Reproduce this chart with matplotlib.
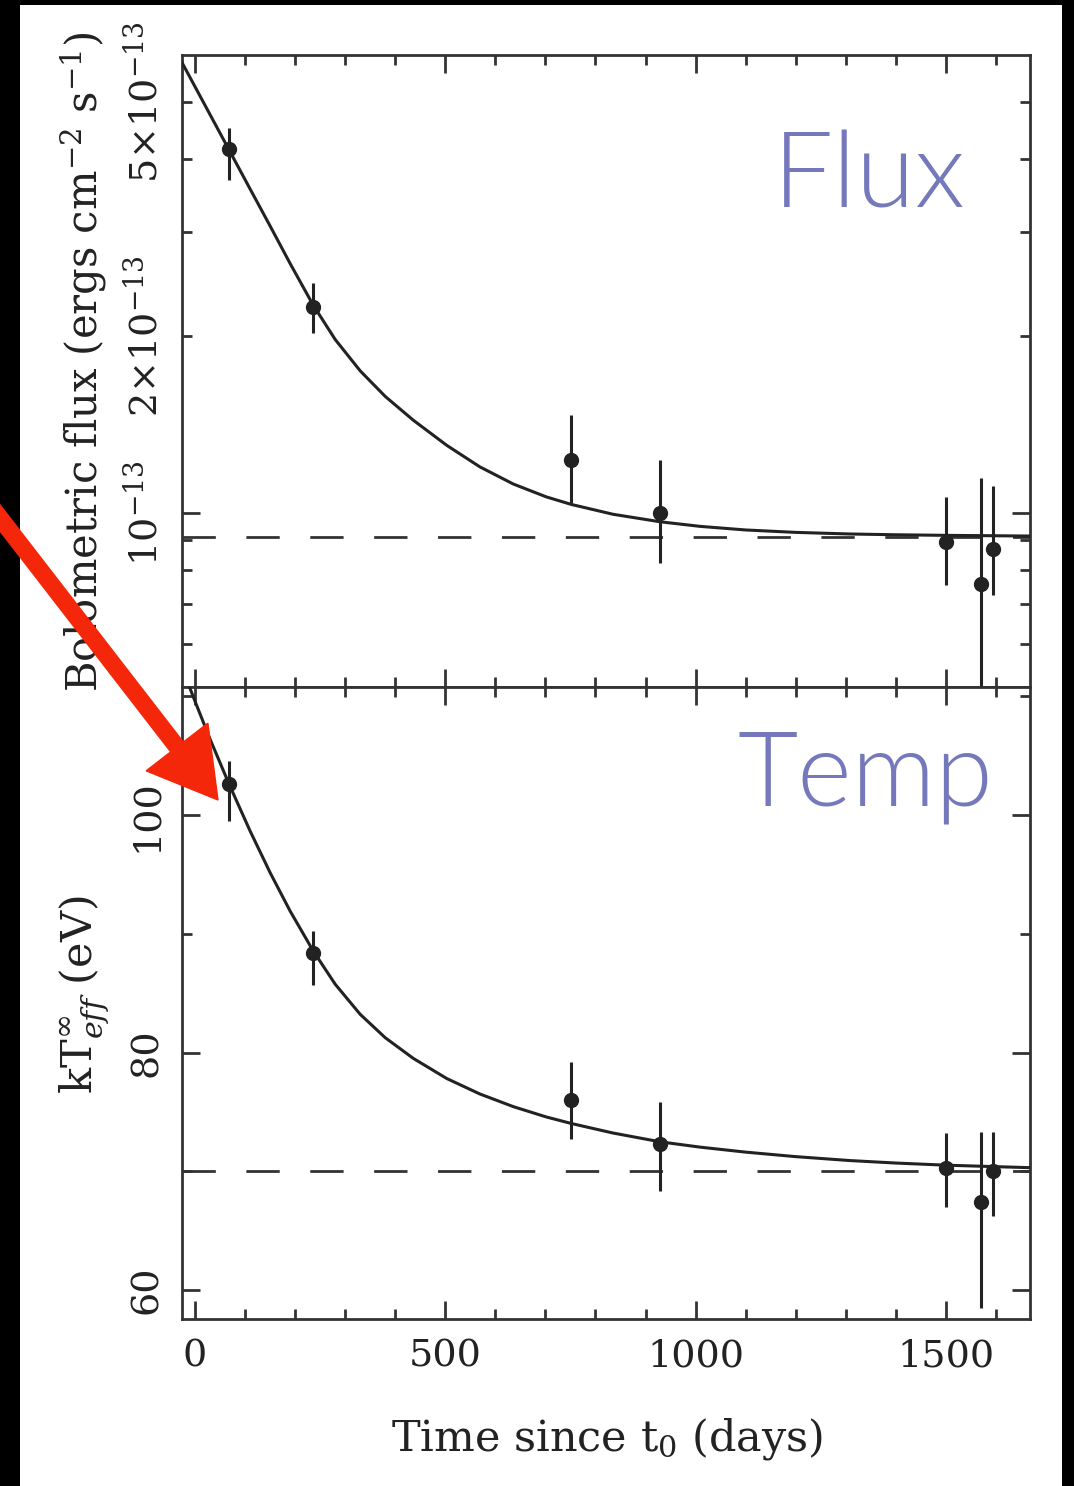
import matplotlib
matplotlib.use("Agg")
import matplotlib.pyplot as plt
from matplotlib.patches import Rectangle, FancyArrow
from matplotlib.ticker import FixedLocator, FuncFormatter, MultipleLocator

plt.rcParams["font.family"] = ["DejaVu Serif"]
plt.rcParams["mathtext.fontset"] = "dejavuserif"

W, H = 1074, 1486
INK = "#222222"

# observation epochs (days since t0)
days = [68, 236, 752, 929, 1500, 1570, 1595]

# bolometric flux in units of 1e-13 erg cm^-2 s^-1
flux = [4.15, 2.24, 1.23, 1.00, 0.894, 0.758, 0.870]
flux_lo = [3.68, 2.02, 1.04, 0.823, 0.755, 0.45, 0.727]
flux_hi = [4.51, 2.46, 1.47, 1.23, 1.066, 1.148, 1.113]

# effective temperature (eV)
temp = [102.6, 88.35, 76.0, 72.3, 70.3, 67.4, 70.0]
temp_lo = [99.5, 85.7, 72.7, 68.3, 67.0, 58.5, 66.2]
temp_hi = [104.6, 90.2, 79.2, 75.8, 73.2, 73.3, 73.3]

# fitted cooling curves
curve_days = [-27, 0, 30, 68, 110, 150, 190, 236, 280, 330, 380, 436, 503,
              569, 636, 702, 752, 835, 929, 1009, 1100, 1200, 1308, 1400,
              1500, 1668]
flux_curve = [5.847, 5.301, 4.753, 4.140, 3.554, 3.075, 2.655, 2.257, 1.973,
              1.745, 1.579, 1.439, 1.304, 1.199, 1.121, 1.066, 1.035, 0.9961,
              0.9673, 0.9501, 0.9368, 0.9280, 0.9222, 0.9194, 0.9173, 0.9148]
temp_curve = [112.52, 109.60, 106.41, 102.62, 98.67, 95.16, 91.92, 88.57,
              85.76, 83.22, 81.25, 79.51, 77.81, 76.51, 75.44, 74.57, 74.02,
              73.22, 72.48, 72.03, 71.61, 71.23, 70.90, 70.69, 70.51, 70.30]

flux_floor = 0.9127
temp_floor = 70.0


def px(x, y):
    return x / W, 1 - y / H


def style_axes(ax):
    for s in ax.spines.values():
        s.set_linewidth(2.0)
        s.set_color("#333333")
    ax.tick_params(which="both", direction="in", top=True, right=True,
                   width=2.0, color="#333333", labelsize=27.5, labelcolor=INK)
    ax.tick_params(which="major", length=13)
    ax.tick_params(which="minor", length=7)
    ax.tick_params(axis="x", which="both", pad=14)
    ax.tick_params(axis="y", which="both", pad=12, labelrotation=90)
    ax.xaxis.set_major_locator(MultipleLocator(500))
    ax.xaxis.set_minor_locator(MultipleLocator(100))


def draw_points(ax, y, lo, hi):
    yerr = [[v - l for v, l in zip(y, lo)], [h - v for v, h in zip(y, hi)]]
    ax.errorbar(days, y, yerr=yerr, fmt="o", color=INK, ms=10,
                elinewidth=2.2, capsize=0, zorder=4)


fig = plt.figure(figsize=(W / 100, H / 100), dpi=100)
fig.patch.set_facecolor("black")
fig.add_artist(Rectangle((20 / W, 0), 1042 / W, 1 - 5 / H,
                         transform=fig.transFigure, facecolor="white",
                         edgecolor="none", zorder=-5))

ax1 = fig.add_axes([182 / W, 1 - 687 / H, 848 / W, 632 / H])
ax2 = fig.add_axes([182 / W, 1 - 1319 / H, 848 / W, 632 / H], sharex=ax1)

# --- flux panel
style_axes(ax1)
ax1.set_yscale("log")
ax1.plot(curve_days, flux_curve, color=INK, lw=2.2, zorder=3)
ax1.axhline(flux_floor, color="#333333", lw=2.0, dashes=(12, 11), zorder=2)
draw_points(ax1, flux, flux_lo, flux_hi)
ax1.set_xlim(-26, 1668)
ax1.set_ylim(0.507, 6.0)
ax1.yaxis.set_major_locator(FixedLocator([1.0]))
ax1.yaxis.set_minor_locator(FixedLocator([0.6, 0.7, 0.8, 0.9, 2, 3, 4, 5]))
ax1.yaxis.set_major_formatter(FuncFormatter(lambda v, p: r"$10^{-13}$"))
minor_labels = {2: r"$2{\times}10^{-13}$", 5: r"$5{\times}10^{-13}$"}
ax1.yaxis.set_minor_formatter(
    FuncFormatter(lambda v, p: minor_labels.get(int(round(v)) if v >= 1 else -1, "")))
ax1.tick_params(axis="x", labelbottom=False)
ax1.text(0.697, 0.758, "Flux", transform=ax1.transAxes, fontsize=77,
         family=["Lato", "DejaVu Sans"], fontweight=300, color="#7579bb",
         ha="left", va="baseline")

# --- temperature panel
style_axes(ax2)
ax2.plot(curve_days, temp_curve, color=INK, lw=2.2, zorder=3)
ax2.axhline(temp_floor, color="#333333", lw=2.0, dashes=(12, 11), zorder=2)
draw_points(ax2, temp, temp_lo, temp_hi)
ax2.set_ylim(57.55, 110.8)
ax2.yaxis.set_major_locator(MultipleLocator(20))
ax2.yaxis.set_minor_locator(MultipleLocator(10))
ax2.text(0.655, 0.812, "Temp", transform=ax2.transAxes, fontsize=75,
         family=["Lato", "DejaVu Sans"], fontweight=300, color="#7579bb",
         ha="left", va="baseline")

for ax in (ax1, ax2):
    plt.setp(ax.get_yticklabels(which="both"), va="center")

# axis titles
fig.text(*px(607, 1450), r"Time since t$_0$ (days)", fontsize=31, color=INK,
         ha="center", va="baseline")
fig.text(*px(84, 362), r"Bolometric flux (ergs cm$^{-2}$ s$^{-1}$)",
         fontsize=30, color=INK, rotation=90, ha="center", va="center")
fig.text(*px(84, 995), r"kT$^{\infty}_{eff}$ (eV)", fontsize=31, color=INK,
         rotation=90, ha="center", va="center")

# red pointer arrow
fig.add_artist(FancyArrow(-0.1, (H - 505) / 100, 2.28, -2.95, width=0.16,
                          head_width=0.78, head_length=0.67,
                          length_includes_head=True, color="#f5270a",
                          transform=fig.dpi_scale_trans, zorder=10))

fig.savefig("out.png", dpi=100, facecolor=fig.get_facecolor())
